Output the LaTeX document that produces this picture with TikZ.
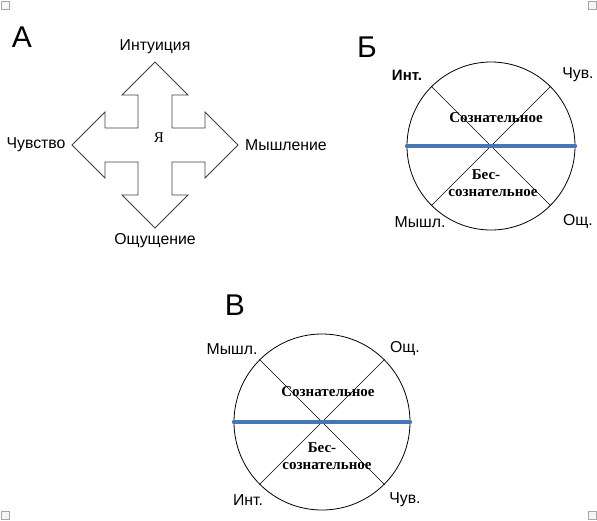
\documentclass[tikz,border=0pt]{standalone}
\usepackage{fontspec}
\setmainfont{Liberation Serif}
\setsansfont{Liberation Sans}
\usepackage{xcolor}
\usepackage{tikz}
\usetikzlibrary{positioning}

\definecolor{axisblue}{HTML}{4A75B5}

\begin{document}
\begin{tikzpicture}[
x=1pt,y=-1pt,
lbl/.style={font=\sffamily\fontsize{15.8}{17}\selectfont,inner sep=0pt},
big/.style={font=\sffamily\fontsize{30}{32}\selectfont,inner sep=0pt},
zone/.style={font=\bfseries\fontsize{15}{17}\selectfont,inner sep=0pt,align=center},
disk/.style={circle,draw,line width=.8pt,inner sep=0pt},
axis/.style={draw=axisblue,line width=3.6pt,line cap=round},
handle/.style={draw=gray!70,fill=gray!8,line width=.8pt}
]
\useasboundingbox (0,0) rectangle (597,520);
% corner handles
\draw[handle] (1,1) rectangle (9,9);
\draw[handle] (588,1) rectangle (596,9);
\draw[handle] (1,511) rectangle (9,519);
\draw[handle] (588,511) rectangle (596,519);

% A: cross of arrows
\node[big] (la) at (22,37) {А};
\draw[line width=.8pt,draw=black!75] (155,62) -- (188,95) -- (172,95) -- (172,128) -- (205,128) -- (205,112)
  -- (238,145) -- (205,178) -- (205,162) -- (172,162) -- (172,195) -- (188,195)
  -- (155,228) -- (122,195) -- (138,195) -- (138,162) -- (105,162) -- (105,178)
  -- (72,145) -- (105,112) -- (105,128) -- (138,128) -- (138,95) -- (122,95) -- cycle;
\node[zone,font=\fontsize{15}{16}\selectfont] (ego) at (159,138) {Я};
\node[lbl] (intu) at (155,47) {Интуиция};
\node[lbl] (feel) at (36,145) {Чувство};
\node[lbl] (think) at (286,145) {Мышление};
\node[lbl] (sens) at (155,241) {Ощущение};

% Б
\node[big] (lb) at (367,47) {Б};
\node[disk,minimum size=168pt] (cb) at (491,146) {};
\draw[line width=.6pt] (cb.135) -- (cb.-45);
\draw[line width=.6pt] (cb.45) -- (cb.-135);
\draw[axis] (cb.west) -- (cb.east);
\node[lbl,font=\sffamily\bfseries\fontsize{15}{17}\selectfont] (bint) at (407,75) {Инт.};
\node[lbl] (bchu) at (578,75) {Чув.};
\node[lbl] (bmys) at (420,222) {Мышл.};
\node[lbl] (bosh) at (578,222) {Ощ.};
\node[zone] (bcon) at (496,118) {Сознательное};
\node[zone] (bunc) at (493,183) {\hspace*{-14pt}Бес-\\сознательное};

% В
\node[big] (lv) at (235,305) {В};
\node[disk,minimum size=176pt] (cv) at (322,422) {};
\draw[line width=.6pt] (cv.135) -- (cv.-45);
\draw[line width=.6pt] (cv.45) -- (cv.-135);
\draw[axis] (cv.west) -- (cv.east);
\node[lbl] (vmys) at (232,349) {Мышл.};
\node[lbl] (vosh) at (405,349) {Ощ.};
\node[lbl] (vint) at (248,500) {Инт.};
\node[lbl] (vchu) at (405,500) {Чув.};
\node[zone] (vcon) at (328,392) {Сознательное};
\node[zone] (vunc) at (327,456) {\hspace*{-10pt}Бес-\\сознательное};
\end{tikzpicture}
\end{document}
